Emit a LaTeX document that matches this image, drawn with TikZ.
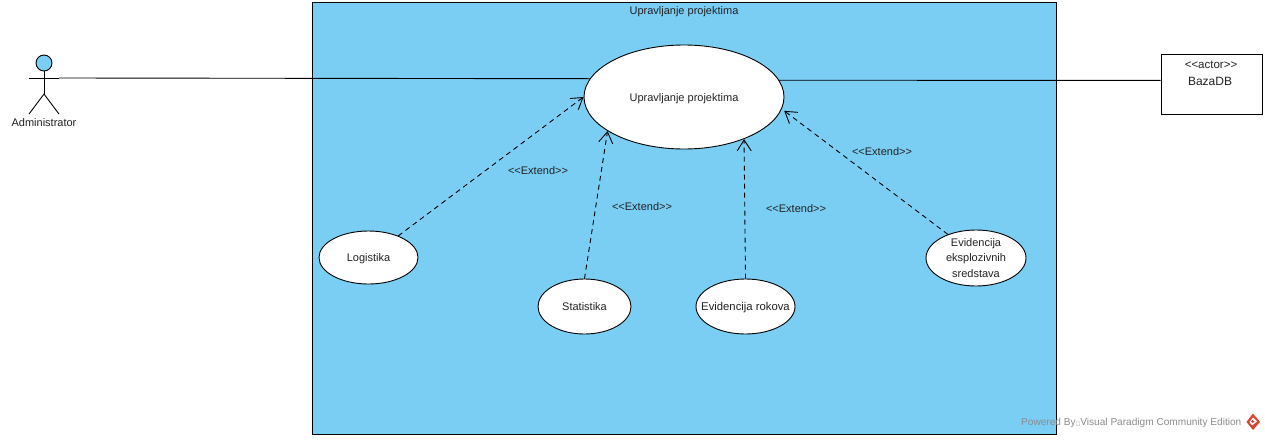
\documentclass[tikz,border=0pt]{standalone}
\usepackage{fontspec}
\setmainfont{Liberation Sans}
\newfontfamily\symfont{DejaVu Sans}
\usetikzlibrary{shapes.geometric,arrows.meta}
\definecolor{vpblue}{HTML}{7ACEF4}
\definecolor{ink}{HTML}{222222}
\definecolor{wm}{HTML}{8C8C8C}
\definecolor{vpred}{HTML}{D9432F}
\tikzset{
  usecase/.style={ellipse,draw=black,fill=white,line width=0.9pt,inner sep=0pt,align=center,text=ink,font=\fontsize{11}{15.5}\selectfont},
  onecase/.style={usecase,text height=8.5pt,text depth=0.5pt},
  lbl/.style={text=ink,font=\fontsize{11}{13}\selectfont,inner sep=0pt,text height=9pt,text depth=1pt},
  extendline/.style={black,line width=0.9pt,dash pattern=on 5pt off 4pt,-{Straight Barb[length=11pt,width=14pt,line width=0.9pt]}},
  assoc/.style={black,line width=0.9pt},
  stick/.style={black,line width=0.9pt}
}
\begin{document}
\begin{tikzpicture}[x=1pt,y=-1pt]
\useasboundingbox (0,0) rectangle (1265,439);
\fill[white] (0,0) rectangle (1265,439);
% system
\node[draw=black,fill=vpblue,line width=0.9pt,minimum width=744pt,minimum height=432pt,inner sep=0pt] (sys) at (684,218) {};
\node[lbl] (systitle) at (684,10) {Upravljanje projektima};
% use cases
\node[onecase,minimum width=200pt,minimum height=104pt] (main) at (684,97) {Upravljanje projektima};
\node[onecase,minimum width=99pt,minimum height=53pt] (logi) at (368.5,257.5) {Logistika};
\node[onecase,minimum width=93pt,minimum height=55pt] (stat) at (584.5,306.5) {Statistika};
\node[onecase,minimum width=99pt,minimum height=55pt,inner xsep=-18pt,font=\fontsize{11.3}{13}\selectfont] (rok) at (745.5,306.5) {Evidencija rokova};
\node[usecase,minimum width=100pt,minimum height=56pt,inner sep=-6pt] (evid) at (976,258) {Evidencija\\eksplozivnih\\sredstava};
% actor
\node[circle,draw=black,fill=vpblue,line width=0.9pt,minimum size=16pt,inner sep=0pt] (head) at (44,63) {};
\coordinate (hip) at (44,94);
\coordinate (lefthand) at (29,78);
\coordinate (righthand) at (59,78);
\coordinate (leftfoot) at (29,114);
\coordinate (rightfoot) at (59,114);
\draw[stick] (head.south) -- (hip);
\draw[stick] (lefthand) -- (righthand);
\draw[stick] (leftfoot) -- (hip) -- (rightfoot);
\node[lbl] (admin) at (44,122.5) {Administrator};
% external actor
\node[draw=black,fill=white,line width=0.9pt,minimum width=101pt,minimum height=60pt,inner sep=0pt] (baza) at (1211.5,84) {};
\node[lbl,font=\fontsize{11.5}{13}\selectfont] (bazast) at (1211,64) {{<}{<}actor{>}{>}};
\node[text=ink,font=\fontsize{12}{14}\selectfont,inner sep=0pt] (bazaname) at (1210,81) {BazaDB};
% associations
\draw[assoc] (righthand) -- (main.169);
\draw[assoc] (main.10.2) -- (baza.176.6);
% extends
\draw[extendline] (logi.36) -- (main.180);
\draw[extendline] (stat.90) -- (main.204.1);
\draw[extendline] (rok.90) -- (main.325);
\draw[extendline,shorten >=3pt] (evid.140) -- (main.353);
\node[lbl] (e1) at (538,170) {{<}{<}Extend{>}{>}};
\node[lbl] (e2) at (642,206) {{<}{<}Extend{>}{>}};
\node[lbl] (e3) at (796,208) {{<}{<}Extend{>}{>}};
\node[lbl] (e4) at (882,151) {{<}{<}Extend{>}{>}};
% watermark
\node[text=wm,font=\fontsize{10.1}{13}\selectfont,inner sep=0pt,anchor=east] (wmk) at (1241.5,422.5) {Powered By{\symfont\fontsize{5}{5}\selectfont □}Visual Paradigm Community Edition};
\fill[vpred] (1253,413.5) -- (1260,422) -- (1253,430) -- (1246.5,422) -- cycle;
\fill[white] (1253,417.5) -- (1257,421.5) -- (1252,425.5) -- (1249.5,422) -- cycle;
\fill[vpred] (1252.5,420) -- (1254.5,421.5) -- (1252.5,423) -- (1251,421.5) -- cycle;
\end{tikzpicture}
\end{document}
